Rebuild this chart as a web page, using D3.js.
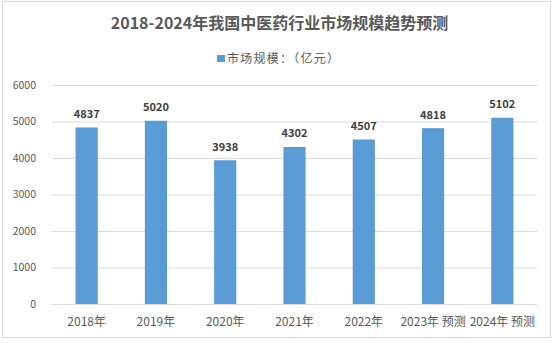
<!DOCTYPE html>
<html><head><meta charset="utf-8">
<script src="https://cdn.jsdelivr.net/npm/d3@7"></script>
<style>body{margin:0;background:#fff;}svg{display:block;font-family:"Noto Sans CJK SC","Noto Sans",sans-serif;}</style>
</head><body>
<svg id="c" width="555" height="343"></svg>
<script>
const categories = ["2018年","2019年","2020年","2021年","2022年","2023年 预测","2024年 预测"];
const values = [4837,5020,3938,4302,4507,4818,5102];
const yTicks = [0,1000,2000,3000,4000,5000,6000];
const title = "2018-2024年我国中医药行业市场规模趋势预测";
const legendLabel = "市场规模：（亿元）";

const svg = d3.select("#c");
svg.append("rect").attr("x",2.5).attr("y",1.5).attr("width",548).attr("height",336)
  .attr("fill","#fff").attr("stroke","#d9d9d9");

const x = d3.scaleBand().domain(categories).range([52,537]).paddingInner(0.68).paddingOuter(0.34);
const y = d3.scaleLinear().domain([0,6000]).range([304,85]);

// grid
svg.append("g").selectAll("line").data(yTicks).join("line")
  .attr("x1",52).attr("x2",537).attr("y1",d=>y(d)+0.5).attr("y2",d=>y(d)+0.5)
  .attr("stroke","#d9d9d9").attr("stroke-width",1);

// y axis labels
const ya = svg.append("g").attr("transform","translate(36,0)")
  .call(d3.axisLeft(y).tickValues(yTicks).tickSize(0).tickPadding(0).tickFormat(d3.format("d")));
ya.select(".domain").remove();
ya.selectAll("text").attr("font-size",10.5).attr("fill","#595959").attr("font-family","'Noto Sans CJK SC',sans-serif");

// x axis labels
const xa = svg.append("g").attr("transform","translate(0,304)")
  .call(d3.axisBottom(x).tickSize(0).tickPadding(13));
xa.select(".domain").remove();
xa.selectAll("text").attr("font-size",12).attr("fill","#595959").attr("font-family","'Noto Sans CJK SC',sans-serif");

// bars
svg.append("g").selectAll("rect").data(values).join("rect")
  .attr("x",(d,i)=>x(categories[i])).attr("width",x.bandwidth())
  .attr("y",d=>y(d)).attr("height",d=>y(0)-y(d)).attr("fill","#5b9bd5");

// value labels
svg.append("g").selectAll("text").data(values).join("text")
  .attr("x",(d,i)=>x(categories[i])+x.bandwidth()/2).attr("y",d=>y(d)-9.5)
  .attr("text-anchor","middle").attr("font-size",11).attr("font-weight","bold")
  .attr("fill","#404040").text(d=>d);

// title
svg.append("text").attr("x",279.5).attr("y",29).attr("text-anchor","middle")
  .attr("font-size",16).attr("font-weight","bold").attr("fill","#595959").text(title);

// legend
const lg = svg.append("g");
lg.append("rect").attr("x",217).attr("y",55).attr("width",8).attr("height",7).attr("fill","#5b9bd5");
lg.append("text").attr("x",227).attr("y",63).attr("font-size",12).attr("fill","#595959")
  .attr("textLength",112).attr("lengthAdjust","spacing").text(legendLabel);
</script>
</body></html>
